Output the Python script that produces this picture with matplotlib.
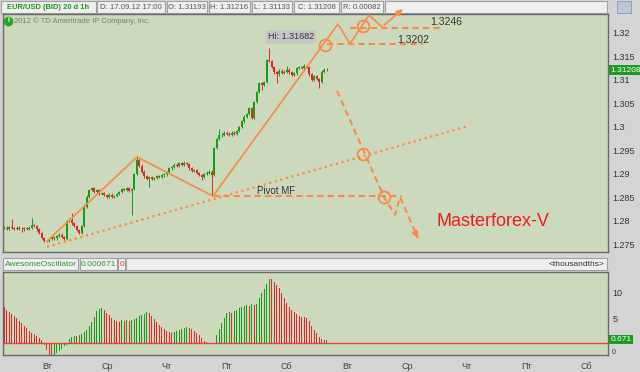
import numpy as np
import matplotlib
matplotlib.use("Agg")
import matplotlib.pyplot as plt
from matplotlib.patches import Rectangle

plt.rcParams['font.family'] = ['Liberation Sans', 'DejaVu Sans']

W, H = 640, 372
PANEL = '#ccd9bd'
FIGBG = '#d4d4d4'
ORANGE = '#fa8a45'
UP = '#169c16'
DOWN = '#e3262a'

# hourly closes, EUR/USD (open = previous close)
closes = [
    1.2786, 1.2784, 1.2787, 1.2785, 1.2783, 1.2786, 1.2784, 1.2782, 1.2785, 1.2783,
    1.2786, 1.2792, 1.2790, 1.2782, 1.2774, 1.2764, 1.2757, 1.2758, 1.2762, 1.2765,
    1.2763, 1.2768, 1.2771, 1.2766, 1.2762, 1.2800, 1.2803, 1.2795, 1.2790, 1.2781,
    1.2774, 1.2790, 1.2830, 1.2852, 1.2866, 1.2870, 1.2862, 1.2865, 1.2858, 1.2860,
    1.2855, 1.2852, 1.2856, 1.2851, 1.2853, 1.2858, 1.2862, 1.2868, 1.2866, 1.2870,
    1.2864, 1.2868, 1.2900, 1.2930, 1.2918, 1.2905, 1.2895, 1.2890, 1.2893, 1.2889,
    1.2892, 1.2896, 1.2893, 1.2897, 1.2899, 1.2904, 1.2912, 1.2915, 1.2920, 1.2918,
    1.2923, 1.2920, 1.2924, 1.2921, 1.2912, 1.2906, 1.2909, 1.2902, 1.2898, 1.2894,
    1.2900, 1.2903, 1.2905, 1.2898, 1.2955, 1.2975, 1.2982, 1.2984, 1.2988, 1.2986,
    1.2983, 1.2988, 1.2986, 1.2992, 1.3000, 1.3012, 1.3022, 1.3028, 1.3040, 1.3020,
    1.3053, 1.3075, 1.3094, 1.3090, 1.3096, 1.3142, 1.3140, 1.3128, 1.3116, 1.3112,
    1.3120, 1.3115, 1.3118, 1.3122, 1.3116, 1.3110, 1.3114, 1.3125, 1.3128, 1.3126,
    1.3130, 1.3127, 1.3112, 1.3100, 1.3108, 1.3102, 1.3096, 1.3118, 1.3122, 1.3121,
]
first_open = 1.2785
spike_hi = {3: 1.2804, 11: 1.2806, 27: 1.2817, 53: 1.2937, 72: 1.2928, 84: 1.2957,
            86: 1.2996, 106: 1.3168, 113: 1.3130, 120: 1.3134}
spike_lo = {7: 1.2776, 24: 1.2758, 30: 1.2772, 51: 1.2813, 58: 1.2872, 79: 1.2887,
            83: 1.2853, 103: 1.3078, 109: 1.3093, 126: 1.3083}
wick = 0.00025

# Awesome Oscillator, thousandths
ao = [
    7.2, 6.7, 6.2, 5.9, 5.5, 5.0, 4.5, 4.0, 3.5, 3.0,
    2.5, 2.1, 1.8, 1.4, 1.0, 0.6, -0.4, -1.4, -2.4, -2.5,
    -2.3, -2.0, -1.6, -1.1, -0.6, -0.3, 0.8, 1.2, 1.5, 1.4,
    1.6, 1.9, 2.2, 2.6, 3.4, 4.2, 5.2, 6.4, 6.8, 7.0,
    6.6, 6.1, 5.6, 5.1, 4.7, 4.5, 4.3, 4.6, 4.5, 4.6,
    4.4, 4.6, 4.8, 5.1, 5.4, 5.7, 5.9, 6.2, 6.0, 5.4,
    4.8, 4.2, 3.6, 3.2, 2.8, 2.5, 2.2, 2.0, 2.2, 2.4,
    2.6, 2.8, 3.0, 3.2, 3.1, 2.8, 2.4, 2.0, 1.6, 1.0,
    0.5, 0.3, 0.1, 0.05, 0.05, 1.6, 2.8, 4.0, 5.0, 6.0,
    6.2, 6.1, 6.4, 6.7, 7.0, 7.2, 7.5, 7.6, 7.5, 7.8,
    7.7, 7.9, 9.0, 10.0, 10.8, 11.8, 12.9, 12.8, 12.3, 11.7,
    11.0, 10.0, 9.0, 8.0, 7.3, 6.6, 6.3, 5.9, 5.4, 5.3,
    5.2, 5.1, 4.4, 3.4, 2.7, 2.0, 1.2, 0.9, 0.6, 0.671,
]

day_ticks = [17, 41, 65, 89, 113, 137, 161, 185, 209, 233]
day_labels = ['Вт', 'Ср', 'Чт', 'Пт', 'Сб', 'Вт', 'Ср', 'Чт', 'Пт', 'Сб']
price_ticks = [1.275, 1.28, 1.285, 1.29, 1.295, 1.3, 1.305, 1.31, 1.315, 1.32]

# drawn analysis (bar index, price)
zig1_x, zig1_y = [17.1, 53.1, 83.5], [1.2757, 1.2936, 1.2853]
zig2_x, zig2_y = [83.5, 133.5, 138.3, 145.9, 151.1], [1.2853, 1.3219, 1.3177, 1.3238, 1.3213]
zig2_arrow = (160.3, 1.3255)
trend_x, trend_y = [17.1, 185.5], [1.2745, 1.3002]
proj_x = [133.1, 151.9, 156.3, 158.3, 165.5]
proj_y = [1.3077, 1.2851, 1.2813, 1.2851, 1.2764]
levels = [(138.3, 175.1, 1.3211, '1.3246', 170.3, 1.3223),
          (129.1, 167.5, 1.3177, '1.3202', 157.1, 1.3185)]
pivot = (83.5, 159.1, 1.2853)
circles_x = [128.3, 143.5, 143.5, 151.9]
circles_y = [1.3175, 1.3215, 1.2943, 1.2851]


def rect(x0, y0, x1, y1):
    return [x0 / W, 1 - y1 / H, (x1 - x0) / W, (y1 - y0) / H]


fig = plt.figure(figsize=(W / 100, H / 100), dpi=100, facecolor=FIGBG)

# background layer for header strips
bg = fig.add_axes([0, 0, 1, 1], zorder=0)
bg.set_xlim(0, W)
bg.set_ylim(H, 0)
bg.axis('off')

header = [(1, 96, 'EUR/USD (BID) 20 d 1h', '#1a9a1a', 'bold', 5.4),
          (97, 165, 'D: 17.09.12 17:00', '#555555', 'normal', 5.6),
          (167, 207, 'O: 1.31193', '#555555', 'normal', 5.6),
          (209, 250, 'H: 1.31216', '#555555', 'normal', 5.6),
          (252, 292, 'L: 1.31133', '#555555', 'normal', 5.6),
          (294, 339, 'C: 1.31208', '#555555', 'normal', 5.6),
          (341, 383, 'R: 0.00082', '#555555', 'normal', 5.6),
          (385, 607, '', '#555555', 'normal', 5.6)]
for x0, x1, txt, col, wt, fs in header:
    bg.add_patch(Rectangle((x0, 1), x1 - x0, 12, fc='#efefef', ec='#a0a0a0', lw=0.8))
    if txt:
        bg.text((x0 + x1) / 2, 7.3, txt, ha='center', va='center', fontsize=fs,
                color=col, fontweight=wt)

ao_head = [(3, 78, 'AwesomeOscillator', '#2a9a2a'),
           (80, 117, '0.000671', '#2a9a2a'),
           (118, 125, '0', '#e03030'),
           (126, 607, '', '#333333')]
for x0, x1, txt, col in ao_head:
    bg.add_patch(Rectangle((x0, 258), x1 - x0, 12, fc='#efefef', ec='#a0a0a0', lw=0.8))
    if txt:
        bg.text((x0 + x1) / 2, 264.3, txt, ha='center', va='center', fontsize=6, color=col)
bg.text(604, 264.3, '<thousandths>', ha='right', va='center', fontsize=6, color='#333333')
bg.add_patch(Rectangle((617, 1), 14, 12, fc='#b8c8d8', ec='#8899aa', lw=0.6))

# main price panel
ax = fig.add_axes(rect(3, 14, 608, 252), zorder=2)
ax.set_facecolor(PANEL)
n = len(closes)
idx = np.arange(n)
opens = [first_open] + closes[:-1]
highs = [spike_hi.get(i, max(opens[i], closes[i]) + wick) for i in range(n)]
lows = [spike_lo.get(i, min(opens[i], closes[i]) - wick) for i in range(n)]
cols = [UP if closes[i] >= opens[i] else DOWN for i in range(n)]
bottoms = [min(o, c) for o, c in zip(opens, closes)]
heights = [max(abs(c - o), 0.00007) for o, c in zip(opens, closes)]
ax.vlines(idx, lows, highs, colors=cols, lw=0.7, zorder=3)
ax.bar(idx, heights, bottom=bottoms, width=0.8, color=cols, linewidth=0, zorder=3)

ax.set_xlim(-0.5, 241.5)
ax.set_ylim(1.2734, 1.32404)
ax.set_xticks([])
ax.yaxis.tick_right()
ax.set_yticks(price_ticks)
ax.set_yticklabels(['%g' % p for p in price_ticks])
ax.tick_params(axis='y', length=0, pad=3, labelsize=6.5, labelcolor='#333333')
for s in ax.spines.values():
    s.set_color('#6a6a6a')
    s.set_linewidth(1)

# analysis drawing
ax.plot(zig1_x, zig1_y, color=ORANGE, lw=1.2, zorder=4)
ax.plot(zig2_x, zig2_y, color=ORANGE, lw=1.2, zorder=4, clip_on=False)
a = ax.annotate('', xy=zig2_arrow, xytext=(zig2_x[-1], zig2_y[-1]),
                arrowprops=dict(arrowstyle='-|>', color=ORANGE, lw=1.2, mutation_scale=9),
                annotation_clip=False, zorder=4)
a.arrow_patch.set_clip_on(False)
ax.plot(trend_x, trend_y, color=ORANGE, lw=1.6, ls=(0, (1, 1.6)), zorder=4)
ax.plot(proj_x, proj_y, color=ORANGE, lw=1.5, ls=(0, (3, 2)), zorder=4)
ax.annotate('', xy=(proj_x[-1], proj_y[-1]),
            xytext=(proj_x[-1] - 0.8, proj_y[-1] + 0.0008),
            arrowprops=dict(arrowstyle='-|>', color=ORANGE, lw=1.2, mutation_scale=9),
            zorder=4)
for x0, x1, lv, lab, tx, ty in levels:
    ax.plot([x0, x1], [lv, lv], color=ORANGE, lw=1.5, ls=(0, (3, 2)), zorder=4)
    ax.text(tx, ty, lab, ha='left', va='center', fontsize=7.5, color='#333333', zorder=5)
ax.plot([pivot[0], pivot[1]], [pivot[2], pivot[2]], color=ORANGE, lw=1.5,
        ls=(0, (3, 2)), zorder=4)
ax.text(101.1, 1.2863, 'Pivot MF', ha='left', va='center', fontsize=7, color='#333333', zorder=5)
ax.plot(circles_x, circles_y, 'o', ms=8.5, mfc='none', mec=ORANGE, mew=1.3, zorder=5,
        clip_on=False)

ax.text(114.7, 1.3192, 'Hi: 1.31682', ha='center', va='center', fontsize=6.5,
        color='#333333', zorder=6,
        bbox=dict(boxstyle='round,pad=0.25', fc='#c6c6c6', ec='none'))
ax.text(172.7, 1.2798, 'Masterforex-V', ha='left', va='center', fontsize=13,
        color='#ee1c1c', zorder=6)
ax.plot([(8 - 3) / 605], [1 - (21 - 14) / 238], 'o', ms=6, color='#23a523',
        transform=ax.transAxes, zorder=6)
ax.text((8 - 3) / 605, 1 - (21 - 14) / 238, 'i', transform=ax.transAxes, ha='center',
        va='center', fontsize=5, color='white', fontweight='bold', zorder=7)
ax.text((14 - 3) / 605, 1 - (21.5 - 14) / 238, '2012 © TD Ameritrade IP Company, Inc.',
        transform=ax.transAxes, ha='left', va='center', fontsize=5.5, color='#7a7a7a')
ax.text(1.004, closes[-1], '1.31208', transform=ax.get_yaxis_transform(), ha='left',
        va='center', fontsize=6, color='white', clip_on=False, zorder=6,
        bbox=dict(boxstyle='square,pad=0.15', fc='#1f9a1f', ec='none'))

# Awesome Oscillator panel
ax2 = fig.add_axes(rect(3, 272, 608, 355), zorder=2)
ax2.set_facecolor(PANEL)
ao_cols = [DOWN] + [UP if ao[i] >= ao[i - 1] else DOWN for i in range(1, len(ao))]
ax2.bar(np.arange(len(ao)), ao, width=0.45, color=ao_cols, linewidth=0, zorder=3)
ax2.axhline(0, color='#e84040', lw=1, zorder=4)
ax2.set_xlim(-0.5, 241.5)
ax2.set_ylim(-2.4, 14.2)
ax2.yaxis.tick_right()
ax2.set_yticks([5, 10])
ax2.set_yticklabels(['5', '10'])
ax2.tick_params(axis='y', length=0, pad=3, labelsize=6.5, labelcolor='#333333')
ax2.set_xticks(day_ticks)
ax2.set_xticklabels(day_labels)
ax2.tick_params(axis='x', length=0, pad=5, labelsize=6.5, labelcolor='#444444')
for s in ax2.spines.values():
    s.set_color('#6a6a6a')
    s.set_linewidth(1)
ax2.text(1.004, ao[-1], '0.671', transform=ax2.get_yaxis_transform(), ha='left',
         va='center', fontsize=6, color='white', clip_on=False, zorder=6,
         bbox=dict(boxstyle='square,pad=0.15', fc='#1f9a1f', ec='none'))
# the zero label peeks out just under the value box
ax2.text(1.006, -1.9, '0', transform=ax2.get_yaxis_transform(), ha='left',
         va='center', fontsize=5, color='#333333', clip_on=False)

fig.savefig('out.png', dpi=100, facecolor=FIGBG)
